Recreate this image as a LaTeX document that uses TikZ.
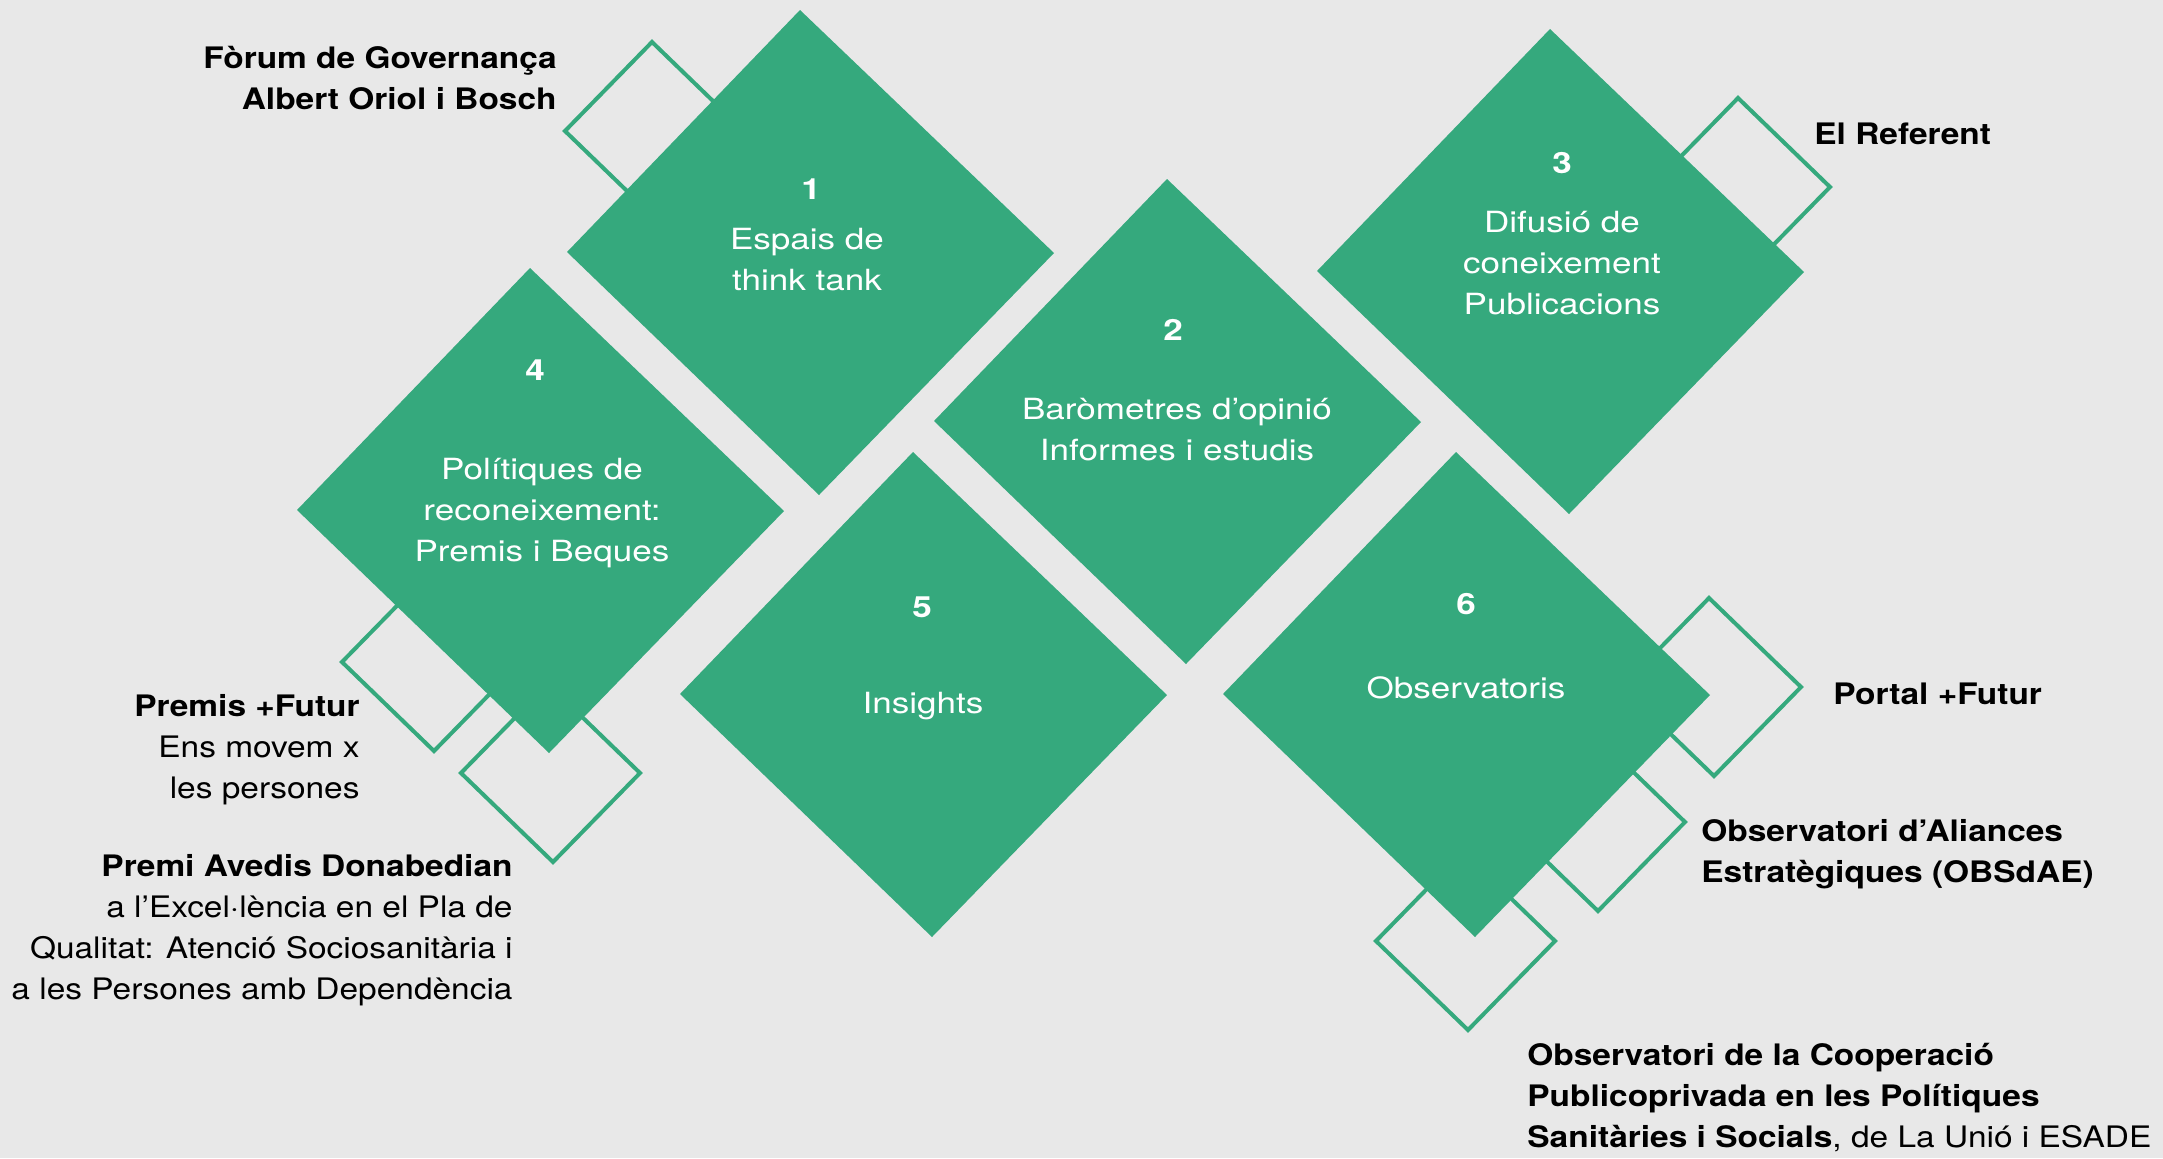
\documentclass[tikz,border=0pt]{standalone}
\usepackage{fontspec}
\setmainfont{TeX Gyre Heros}
\newfontfamily\inFont[FakeStretch=1.2]{TeX Gyre Heros}
\newfontfamily\exFont[FakeStretch=1.13]{TeX Gyre Heros}
\definecolor{dgreen}{HTML}{35A97D}
\definecolor{bgray}{HTML}{E8E8E8}
\tikzset{
  bigd/.style={fill=dgreen, draw=none},
  smalld/.style={draw=dgreen, line width=2pt, fill=none},
  numtxt/.style={text=white, inner sep=0pt, font=\inFont\fontsize{14.6}{20.5}\selectfont\bfseries},
  intxt/.style={text=white, inner sep=0pt, align=center, font=\inFont\fontsize{14.6}{20.5}\selectfont},
  extxt/.style={text=black, inner sep=0pt, font=\exFont\fontsize{14.8}{20.5}\selectfont},
  exbold/.style={extxt, font=\exFont\fontsize{14.8}{20.5}\selectfont\bfseries},
}
\newcommand\BigDia[2]{\fill[bigd] (#1,#2) -- ++(233,-242) -- ++(254,243) -- ++(-235,242) -- cycle;}
\newcommand\SmallDia[2]{\draw[smalld] (#1,#2) -- ++(87,-89) -- ++(92,89) -- ++(-87,89) -- cycle;}
\begin{document}
\begin{tikzpicture}[x=0.5pt, y=-0.5pt]
\fill[bgray] (0,0) rectangle (2163,1158);
\useasboundingbox (0,0) rectangle (2163,1158);
% small outlined diamonds
\SmallDia{565}{131}
\SmallDia{1651}{187}
\SmallDia{342}{662}
\SmallDia{461}{773}
\SmallDia{1622}{687}
\SmallDia{1506}{822}
\SmallDia{1376}{941}
% big diamonds
\BigDia{567}{252}
\BigDia{934}{421}
\BigDia{1317}{271}
\BigDia{297}{510}
\BigDia{680}{694}
\BigDia{1223}{694}
% texts inside
\node[numtxt] (n1) at (811,189) {1};
\node[intxt] (t1) at (807,260) {Espais de\\think tank};
\node[numtxt] (n2) at (1173,330) {2};
\node[intxt] (t2) at (1177,430) {Baròmetres d’opinió\\Informes i estudis};
\node[numtxt] (n3) at (1562,163) {3};
\node[intxt] (t3) at (1562,263) {Difusió de\\coneixement\\Publicacions};
\node[numtxt] (n4) at (535,370) {4};
\node[intxt] (t4) at (542,513) {Polítiques de\\reconeixement:\\Premis i Beques};
\node[numtxt] (n5) at (922,607) {5};
\node[intxt] (t5) at (923,706) {Insights};
\node[numtxt] (n6) at (1466,604) {6};
\node[intxt] (t6) at (1466,688) {Observatoris};
% external labels
\node[exbold, anchor=east, align=right] (e1) at (557,78) {Fòrum de Governança\\Albert Oriol i Bosch};
\node[exbold, anchor=west] (e3) at (1814,134) {El Referent};
\node[exbold, anchor=west] (e6a) at (1833,694) {Portal +Futur};
\node[exbold, anchor=west, align=left] (e6b) at (1701,854) {Observatori d’Aliances\\Estratègiques (OBSdAE)};
\node[extxt, anchor=west, align=left] (e6c) at (1527,1098) {\textbf{Observatori de la Cooperació}\\\textbf{Publicoprivada en les Polítiques}\\\textbf{Sanitàries i Socials}, de La Unió i ESADE};
\node[extxt, anchor=east, align=right] (e4a) at (360,750) {\textbf{Premis +Futur}\\Ens movem x\\les persones};
\node[extxt, anchor=east, align=right] (e4b) at (513,930) {\textbf{Premi Avedis Donabedian}\\a l’Excel·lència en el Pla de\\Qualitat: Atenció Sociosanitària i\\a les Persones amb Dependència};
\end{tikzpicture}
\end{document}
